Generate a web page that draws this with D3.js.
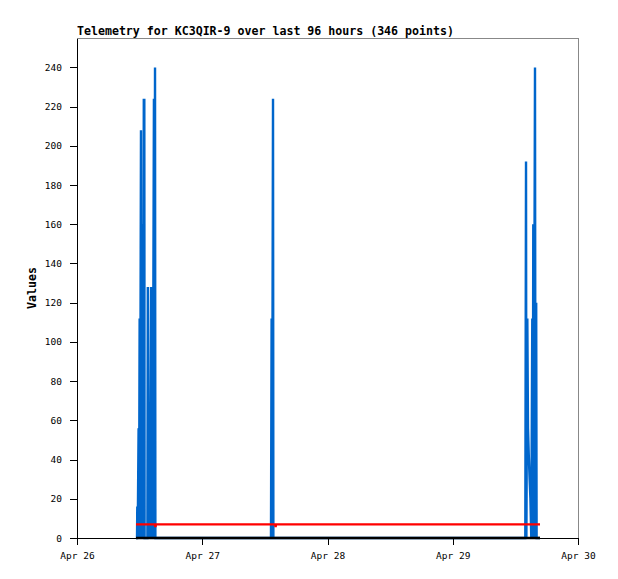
<!DOCTYPE html>
<html><head><meta charset="utf-8">
<script src="https://cdn.jsdelivr.net/npm/d3@7"></script>
<style>body{margin:0;background:#fff}svg{display:block}</style>
</head><body>
<script>
const title = "Telemetry for KC3QIR-9 over last 96 hours (346 points)";
const yLabel = "Values";
// time in hours since Apr 26 00:00
const xTickHours = [0, 24, 48, 72, 96];
const xTickLabels = ["Apr 26", "Apr 27", "Apr 28", "Apr 29", "Apr 30"];
const yTicks = [0,20,40,60,80,100,120,140,160,180,200,220,240];

const blueHours = [11.31,11.50,11.55,11.63,11.80,11.88,12.00,12.07,12.26,12.36,12.55,12.65,12.80,12.86,12.90,12.95,
  13.49,13.57,13.64,13.85,13.93,14.18,14.26,14.43,14.49,14.74,14.80,14.95,15.02,
  37.17,37.29,37.37,37.56,37.63,
  85.90,86.04,86.11,86.29,86.42,86.57,86.73,86.88,87.05,87.24,87.33,87.43,87.51,87.76,87.85,87.99,88.07,88.72];
const blueValues = [0,0,16,0,56,0,112,0,208,0,160,0,224,0,224,0,
  0,128,0,64,0,128,0,48,0,224,0,240,0,
  0,112,0,224,0,
  0,192,0,112,56,42,30,20,0,112,0,160,0,240,0,120,0,0];

const redHours = [11.31,14.93,14.97,15.07,15.11,37.95,38.0,38.1,38.14,88.72];
const redValues = [7,7,6,6,7,7,6,6,7,7];

const zeroHours = [11.31, 88.72];
const zeroValues = [0, 0];

const W = 618, H = 579;
const m = {left:77, right:40, top:38, bottom:41};
const svg = d3.select("body").append("svg").attr("width",W).attr("height",H);

const x = d3.scaleLinear().domain([0,96]).range([m.left, W - m.right]);
const y = d3.scaleLinear().domain([0,255]).range([H - m.bottom, m.top]);

// frame
svg.append("rect").attr("x", x(0)).attr("y", y(255)).attr("width", x(96)-x(0)).attr("height", y(0)-y(255))
  .attr("fill","none").attr("stroke","#888").attr("shape-rendering","crispEdges");

const mono = "'DejaVu Sans Mono', monospace";

const toPts = (hs, vs) => hs.map((h,i)=>[h, vs[i]]);
const line = d3.line().x(d=>x(d[0])).y(d=>y(d[1]));

svg.append("path").datum(toPts(blueHours, blueValues)).attr("d", line)
  .attr("fill","none").attr("stroke","#0066cc").attr("stroke-width",2.4);
svg.append("path").datum(toPts(redHours, redValues)).attr("d", line)
  .attr("fill","none").attr("stroke","#ff0000").attr("stroke-width",2.2);

// axes
const xAxis = d3.axisBottom(x).tickValues(xTickHours).tickFormat((d,i)=>xTickLabels[i]).tickSize(7).tickSizeOuter(0);
const gx = svg.append("g").attr("transform",`translate(0,${y(0)})`).call(xAxis);
const yAxis = d3.axisLeft(y).tickValues(yTicks).tickSize(7).tickSizeOuter(0);
const gy = svg.append("g").attr("transform",`translate(${x(0)},0)`).call(yAxis);
[gx, gy].forEach(g=>{
  g.select(".domain").attr("stroke","#000").attr("shape-rendering","crispEdges");
  g.selectAll(".tick line").attr("stroke","#000").attr("shape-rendering","crispEdges");
  g.selectAll("text").attr("font-family", mono).attr("font-size", "9.5px").attr("fill","#000");
});
gx.selectAll("text").attr("dy","1.2em");
gy.selectAll("text").attr("dx","-5");

svg.append("path").datum(toPts(zeroHours, zeroValues)).attr("d", line)
  .attr("fill","none").attr("stroke","#000").attr("stroke-width",2.5);

svg.append("text").attr("x", m.left).attr("y", 35).text(title)
  .attr("font-family", mono).attr("font-weight","bold").attr("font-size","11.6px");
svg.append("text").attr("transform",`translate(36,${(y(0)+y(255))/2}) rotate(-90)`)
  .attr("text-anchor","middle").text(yLabel)
  .attr("font-family", mono).attr("font-weight","bold").attr("font-size","11.6px");
</script>
</body></html>
